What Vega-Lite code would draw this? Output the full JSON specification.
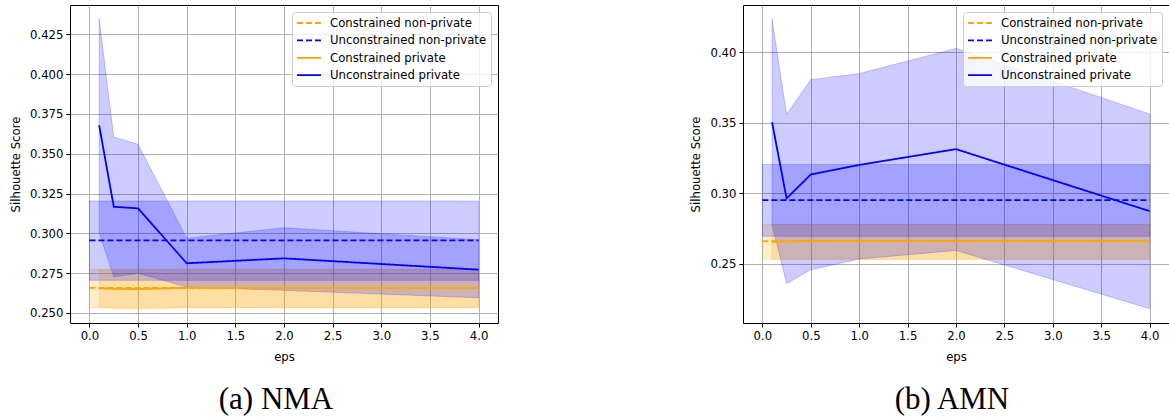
{
  "$schema": "https://vega.github.io/schema/vega-lite/v6.json",
  "padding": {"left": 10, "top": 4, "right": 0, "bottom": 0},
  "spacing": 191,
  "background": "white",
  "datasets": {
    "nma": [
      {"series": "Constrained non-private", "eps": 0, "mean": 0.2658, "lo": 0.2533, "hi": 0.2774},
      {"series": "Constrained non-private", "eps": 4, "mean": 0.2658, "lo": 0.2533, "hi": 0.2774},
      {"series": "Unconstrained non-private", "eps": 0, "mean": 0.2956, "lo": 0.2705, "hi": 0.3203},
      {"series": "Unconstrained non-private", "eps": 4, "mean": 0.2956, "lo": 0.2705, "hi": 0.3203},
      {"series": "Constrained private", "eps": 0.1, "mean": 0.2655, "lo": 0.2535, "hi": 0.2770},
      {"series": "Constrained private", "eps": 0.25, "mean": 0.2652, "lo": 0.2527, "hi": 0.2772},
      {"series": "Constrained private", "eps": 0.5, "mean": 0.2650, "lo": 0.2523, "hi": 0.2772},
      {"series": "Constrained private", "eps": 1, "mean": 0.2658, "lo": 0.2533, "hi": 0.2775},
      {"series": "Constrained private", "eps": 2, "mean": 0.2658, "lo": 0.2535, "hi": 0.2774},
      {"series": "Constrained private", "eps": 4, "mean": 0.2658, "lo": 0.2535, "hi": 0.2774},
      {"series": "Unconstrained private", "eps": 0.1, "mean": 0.3678, "lo": 0.3004, "hi": 0.4348},
      {"series": "Unconstrained private", "eps": 0.25, "mean": 0.3167, "lo": 0.2727, "hi": 0.3605},
      {"series": "Unconstrained private", "eps": 0.5, "mean": 0.3157, "lo": 0.2749, "hi": 0.3559},
      {"series": "Unconstrained private", "eps": 1, "mean": 0.2812, "lo": 0.2663, "hi": 0.2969},
      {"series": "Unconstrained private", "eps": 2, "mean": 0.2843, "lo": 0.2642, "hi": 0.3035},
      {"series": "Unconstrained private", "eps": 4, "mean": 0.2772, "lo": 0.2595, "hi": 0.2960}
    ],
    "amn": [
      {"series": "Constrained non-private", "eps": 0, "mean": 0.2660, "lo": 0.2531, "hi": 0.2779},
      {"series": "Constrained non-private", "eps": 4, "mean": 0.2660, "lo": 0.2531, "hi": 0.2779},
      {"series": "Unconstrained non-private", "eps": 0, "mean": 0.2951, "lo": 0.2694, "hi": 0.3204},
      {"series": "Unconstrained non-private", "eps": 4, "mean": 0.2951, "lo": 0.2694, "hi": 0.3204},
      {"series": "Constrained private", "eps": 0.1, "mean": 0.2655, "lo": 0.2531, "hi": 0.2779},
      {"series": "Constrained private", "eps": 0.25, "mean": 0.2658, "lo": 0.2531, "hi": 0.2779},
      {"series": "Constrained private", "eps": 0.5, "mean": 0.2660, "lo": 0.2531, "hi": 0.2779},
      {"series": "Constrained private", "eps": 1, "mean": 0.2660, "lo": 0.2531, "hi": 0.2779},
      {"series": "Constrained private", "eps": 2, "mean": 0.2660, "lo": 0.2531, "hi": 0.2779},
      {"series": "Constrained private", "eps": 4, "mean": 0.2660, "lo": 0.2531, "hi": 0.2779},
      {"series": "Unconstrained private", "eps": 0.1, "mean": 0.3504, "lo": 0.2779, "hi": 0.4236},
      {"series": "Unconstrained private", "eps": 0.25, "mean": 0.2963, "lo": 0.2358, "hi": 0.3560},
      {"series": "Unconstrained private", "eps": 0.5, "mean": 0.3133, "lo": 0.2457, "hi": 0.3806},
      {"series": "Unconstrained private", "eps": 1, "mean": 0.3201, "lo": 0.2533, "hi": 0.3849},
      {"series": "Unconstrained private", "eps": 2, "mean": 0.3313, "lo": 0.2594, "hi": 0.4028},
      {"series": "Unconstrained private", "eps": 4, "mean": 0.2873, "lo": 0.2181, "hi": 0.3563}
    ]
  },
  "config": {
    "view": {"stroke": "black", "strokeWidth": 1},
    "axis": {
      "domain": false, "grid": true, "gridColor": "#b0b0b0", "gridWidth": 1,
      "tickColor": "black", "tickSize": 4, "labelPadding": 3,
      "labelFont": "DejaVu Sans", "labelFontSize": 11.7, "labelColor": "#000",
      "titleFont": "DejaVu Sans", "titleFontSize": 11.7, "titleFontWeight": "normal", "titleColor": "#000",
      "labelFlush": false, "labelOverlap": false
    },
    "axisY": {"titlePadding": 8},
    "axisX": {"titlePadding": 10},
    "legend": {
      "orient": "top-right", "offset": 7,
      "fillColor": "rgba(255,255,255,0.8)", "strokeColor": "#cccccc", "cornerRadius": 3, "padding": 4,
      "labelFont": "DejaVu Sans", "labelFontSize": 11.7, "labelColor": "#000",
      "symbolType": "M-1,0H3", "symbolSize": 144, "symbolStrokeWidth": 1.8, "labelOffset": 20, "rowPadding": 3.4
    },
    "title": {"font": "Liberation Serif", "fontSize": 31, "fontWeight": "normal", "color": "#000", "anchor": "middle"}
  },
  "hconcat": [
    {
      "width": 428, "height": 318,
      "data": {"name": "nma"},
      "title": {"text": "(a) NMA", "orient": "bottom", "offset": 22, "dx": -8},
      "layer": [
        {
          "transform": [{"filter": "indexof(datum.series, 'Unconstrained') < 0"}],
          "mark": {"type": "area", "fill": "#FFA500", "fillOpacity": 0.2, "stroke": "#FFA500", "strokeOpacity": 0.2, "strokeWidth": 1},
          "encoding": {
            "x": {"field": "eps", "type": "quantitative", "scale": {"domain": [-0.2, 4.2], "nice": false, "zero": false}, "axis": {"values": [0, 0.5, 1, 1.5, 2, 2.5, 3, 3.5, 4], "format": ".1f", "title": "eps"}},
            "y": {"field": "lo", "type": "quantitative", "scale": {"domain": [0.2437, 0.4434], "nice": false, "zero": false}, "axis": {"values": [0.25, 0.275, 0.3, 0.325, 0.35, 0.375, 0.4, 0.425], "format": ".3f", "title": "Silhouette Score"}},
            "y2": {"field": "hi"},
            "detail": {"field": "series"}
          }
        },
        {
          "transform": [{"filter": "indexof(datum.series, 'Unconstrained') >= 0"}],
          "mark": {"type": "area", "fill": "#0000FF", "fillOpacity": 0.2, "stroke": "#0000FF", "strokeOpacity": 0.2, "strokeWidth": 1},
          "encoding": {
            "x": {"field": "eps", "type": "quantitative"},
            "y": {"field": "lo", "type": "quantitative"},
            "y2": {"field": "hi"},
            "detail": {"field": "series"}
          }
        },
        {
          "mark": {"type": "line", "strokeWidth": 1.8},
          "encoding": {
            "x": {"field": "eps", "type": "quantitative"},
            "y": {"field": "mean", "type": "quantitative"},
            "stroke": {"field": "series", "type": "nominal", "scale": {"domain": ["Constrained non-private", "Unconstrained non-private", "Constrained private", "Unconstrained private"], "range": ["#FFA500", "#0000FF", "#FFA500", "#0000FF"]}, "legend": {"title": null}},
            "strokeDash": {"field": "series", "type": "nominal", "scale": {"domain": ["Constrained non-private", "Unconstrained non-private", "Constrained private", "Unconstrained private"], "range": [[6, 3], [6, 3], [1, 0], [1, 0]]}, "legend": {"title": null}}
          }
        }
      ]
    },
    {
      "width": 426, "height": 318,
      "data": {"name": "amn"},
      "title": {"text": "(b) AMN", "orient": "bottom", "offset": 22, "dx": -4},
      "layer": [
        {
          "transform": [{"filter": "indexof(datum.series, 'Unconstrained') < 0"}],
          "mark": {"type": "area", "fill": "#FFA500", "fillOpacity": 0.2, "stroke": "#FFA500", "strokeOpacity": 0.2, "strokeWidth": 1},
          "encoding": {
            "x": {"field": "eps", "type": "quantitative", "scale": {"domain": [-0.2, 4.2], "nice": false, "zero": false}, "axis": {"values": [0, 0.5, 1, 1.5, 2, 2.5, 3, 3.5, 4], "format": ".1f", "title": "eps"}},
            "y": {"field": "lo", "type": "quantitative", "scale": {"domain": [0.2079, 0.4336], "nice": false, "zero": false}, "axis": {"values": [0.25, 0.3, 0.35, 0.4], "format": ".2f", "title": "Silhouette Score"}},
            "y2": {"field": "hi"},
            "detail": {"field": "series"}
          }
        },
        {
          "transform": [{"filter": "indexof(datum.series, 'Unconstrained') >= 0"}],
          "mark": {"type": "area", "fill": "#0000FF", "fillOpacity": 0.2, "stroke": "#0000FF", "strokeOpacity": 0.2, "strokeWidth": 1},
          "encoding": {
            "x": {"field": "eps", "type": "quantitative"},
            "y": {"field": "lo", "type": "quantitative"},
            "y2": {"field": "hi"},
            "detail": {"field": "series"}
          }
        },
        {
          "mark": {"type": "line", "strokeWidth": 1.8},
          "encoding": {
            "x": {"field": "eps", "type": "quantitative"},
            "y": {"field": "mean", "type": "quantitative"},
            "stroke": {"field": "series", "type": "nominal", "scale": {"domain": ["Constrained non-private", "Unconstrained non-private", "Constrained private", "Unconstrained private"], "range": ["#FFA500", "#0000FF", "#FFA500", "#0000FF"]}, "legend": {"title": null}},
            "strokeDash": {"field": "series", "type": "nominal", "scale": {"domain": ["Constrained non-private", "Unconstrained non-private", "Constrained private", "Unconstrained private"], "range": [[6, 3], [6, 3], [1, 0], [1, 0]]}, "legend": {"title": null}}
          }
        }
      ]
    }
  ],
  "resolve": {"scale": {"stroke": "independent", "strokeDash": "independent"}, "legend": {"stroke": "independent", "strokeDash": "independent"}}
}
